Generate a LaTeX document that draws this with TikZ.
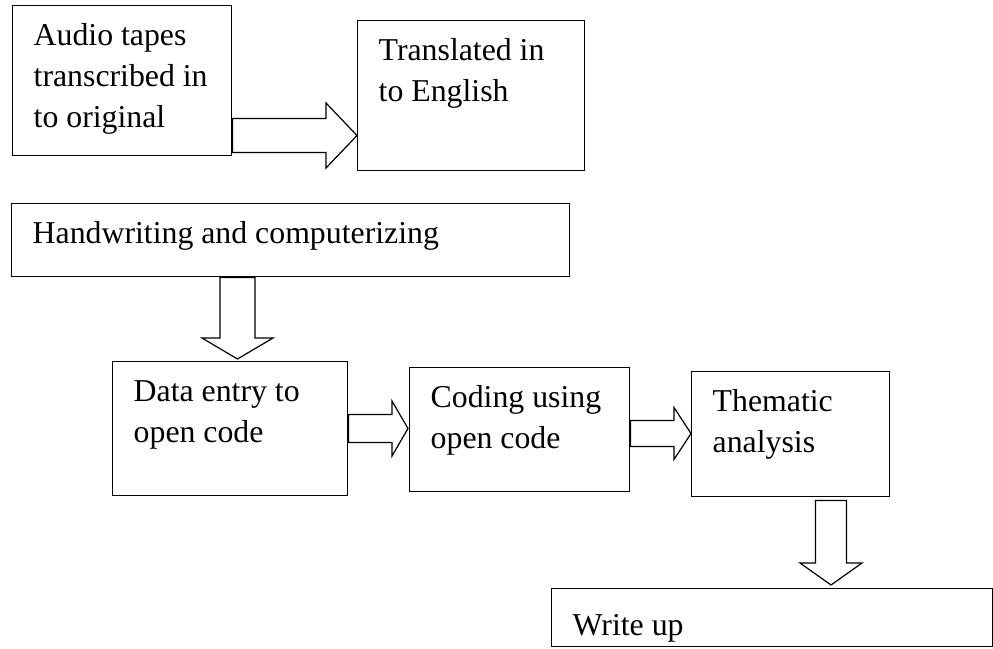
\documentclass[tikz,border=0pt]{standalone}
\usepackage{fontspec}
\setmainfont{Liberation Serif}
\usetikzlibrary{calc}

% text of a stage box: first baseline, width, height, lines
\newcommand{\stagetext}[4][40pt]{\parbox[t][#3][t]{#2}{\raggedright\leftskip=21pt\rule{0pt}{#1}#4}}
% block arrows: from, tip, shaft half width, head half width, head length
\newcommand{\rightblock}[5]{\draw[blockarrow] let \p1=(#1), \p2=(#2) in (\x1,\y2+#3) -- (\x2-#5,\y2+#3) -- (\x2-#5,\y2+#4) -- (\x2,\y2) -- (\x2-#5,\y2-#4) -- (\x2-#5,\y2-#3) -- (\x1,\y2-#3) -- cycle;}
\newcommand{\downblock}[5]{\draw[blockarrow] let \p1=(#1), \p2=(#2) in (\x2-#3,\y1) -- (\x2-#3,\y2+#5) -- (\x2-#4,\y2+#5) -- (\x2,\y2) -- (\x2+#4,\y2+#5) -- (\x2+#3,\y2+#5) -- (\x2+#3,\y1) -- cycle;}

\begin{document}
\begin{tikzpicture}[x=1pt,y=-1pt,
  stage/.style={draw, line width=1.4pt, inner sep=0pt, anchor=north west, font=\fontsize{31.8}{41}\selectfont},
  blockarrow/.style={draw, fill=white, line width=1.2pt, line join=miter}]
\useasboundingbox (0,0) rectangle (993,648);

%Shape: Rectangle
\node[stage] (audio) at (12,5) {\stagetext{219pt}{150pt}{Audio tapes\\transcribed in\\to original}};
%Shape: Rectangle
\node[stage] (english) at (357,20) {\stagetext{227pt}{150pt}{Translated in\\to English}};
%Shape: Rectangle
\node[stage] (handwrite) at (11,203) {\stagetext{558pt}{73pt}{Handwriting and computerizing}};
%Shape: Rectangle
\node[stage] (entry) at (112,361) {\stagetext{235pt}{134pt}{Data entry to\\open code}};
%Shape: Rectangle
\node[stage] (coding) at (409,367) {\stagetext{220pt}{124pt}{Coding using\\open code}};
%Shape: Rectangle
\node[stage] (thematic) at (691,371) {\stagetext{198pt}{125pt}{Thematic\\analysis}};
%Shape: Rectangle
\node[stage] (writeup) at (551,588) {\stagetext[47pt]{441pt}{58pt}{Write up}};

%Shape: Right Arrow
\rightblock{audio.east}{$(english.north west)+(0,115.5)$}{17pt}{32.5pt}{31pt}
%Shape: Down Arrow
\downblock{handwrite.south}{$(entry.north west)+(125.5,-2)$}{17.5pt}{35.5pt}{21pt}
%Shape: Right Arrow
\rightblock{entry.east}{$(coding.north west)+(-1,61.5)$}{14pt}{27.5pt}{16pt}
%Shape: Right Arrow
\rightblock{coding.east}{$(thematic.north west)+(0,62.5)$}{13pt}{26pt}{17pt}
%Shape: Down Arrow
\downblock{$(thematic.south)+(0,3)$}{$(writeup.north west)+(280,-3)$}{15.5pt}{31pt}{22pt}

\end{tikzpicture}
\end{document}
